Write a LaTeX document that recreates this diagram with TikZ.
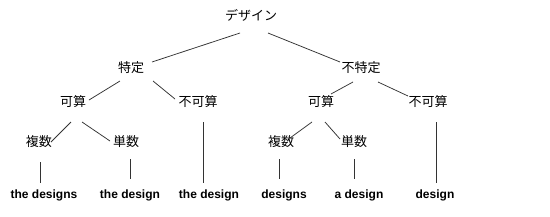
\documentclass[tikz,border=0pt]{standalone}
\usepackage{fontspec}
\setmainfont{Liberation Sans}
\newfontfamily\jp{Noto Sans CJK JP}
\tikzset{
  jpn/.style={inner sep=0pt, font=\jp\fontsize{13pt}{15pt}\selectfont},
  eng/.style={inner sep=0pt, font=\bfseries\fontsize{12pt}{14pt}\selectfont},
  edge/.style={draw=black!80, line width=0.75pt}
}
\newcommand\link[4]{\draw[edge] ([shift={#2}]#1.center) -- ([shift={#4}]#3.center);}
\begin{document}
\begin{tikzpicture}[x=1pt,y=-1pt]
\useasboundingbox[fill=white] (0,0) rectangle (550,217);
\node[jpn] (root) at (251,15) {デザイン};
\node[jpn] (t) at (131,68) {特定};
\node[jpn] (ft) at (361,68) {不特定};
\node[jpn] (k1) at (73,102) {可算};
\node[jpn] (fk1) at (198,102) {不可算};
\node[jpn] (k2) at (321,102) {可算};
\node[jpn] (fk2) at (428,102) {不可算};
\node[jpn] (p1) at (39,142) {複数};
\node[jpn] (s1) at (126,142) {単数};
\node[jpn] (p2) at (281,142) {複数};
\node[jpn] (s2) at (354,142) {単数};
\node[eng] (e1) at (44,195) {the designs};
\node[eng] (e2) at (130,195) {the design};
\node[eng] (e3) at (209,195) {the design};
\node[eng] (e4) at (284,195) {designs};
\node[eng] (e5) at (359,195) {a design};
\node[eng] (e6) at (435,195) {design};
\link{root}{(-11,18)}{t}{(21,-6)}
\link{root}{(17,18)}{ft}{(-21,-6)}
\link{t}{(-11,13)}{k1}{(16,-2)}
\link{t}{(22,13)}{fk1}{(-23,-3)}
\link{ft}{(-8,14)}{k2}{(10,-8)}
\link{ft}{(17,14)}{fk2}{(-20,-6)}
\link{k1}{(-2,20)}{p1}{(12,0)}
\link{k1}{(9,20)}{s1}{(-16,-1)}
\link{fk1}{(5,20)}{e3}{(-6,-12)}
\link{k2}{(-9,20)}{p2}{(9,-4)}
\link{k2}{(4,20)}{s2}{(-14,-3)}
\link{fk2}{(8,20)}{e6}{(1,-12)}
\link{p1}{(1,20)}{e1}{(-4,-12)}
\link{s1}{(4,17)}{e2}{(0,-16)}
\link{p2}{(-2,17)}{e4}{(-5,-16)}
\link{s2}{(0,17)}{e5}{(-5,-16)}
\end{tikzpicture}
\end{document}
